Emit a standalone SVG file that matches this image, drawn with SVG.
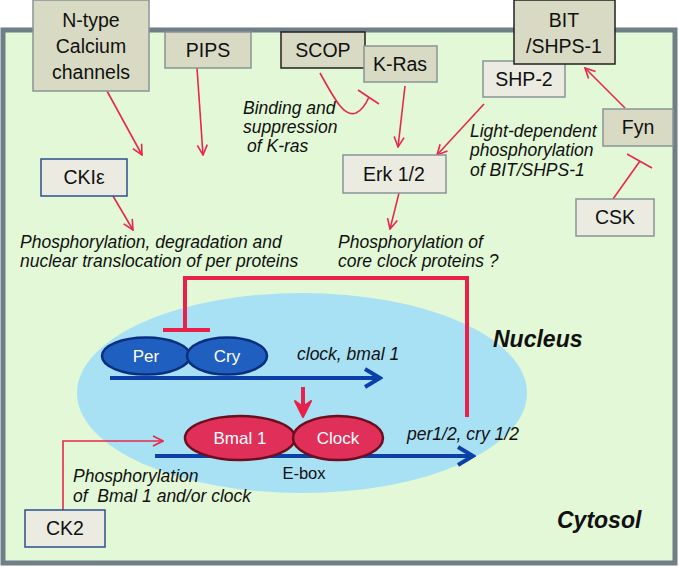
<svg xmlns="http://www.w3.org/2000/svg" width="679" height="567" viewBox="0 0 679 567">
<defs>
<marker id="ar" viewBox="0 0 12 12" markerWidth="12" markerHeight="12" refX="11" refY="6" orient="auto" markerUnits="userSpaceOnUse">
<path d="M1,1 L11,6 L1,11" fill="none" stroke="#e8284a" stroke-width="1.6"/>
</marker>
<marker id="ab" viewBox="0 0 20 22" markerWidth="20" markerHeight="22" refX="17" refY="11" orient="auto" markerUnits="userSpaceOnUse">
<path d="M2,2 L17,11 L2,20" fill="none" stroke="#0d3fa8" stroke-width="4"/>
</marker>
<style>
.box{stroke:#8a9496;stroke-width:1.5}
.dk{fill:#d8dac3}
.lt{fill:#ebebe2}
.bl{stroke:#2d4f90}
.bk{stroke:#222;stroke-width:1.5}
.lbl{font-family:"Liberation Sans",Arial,sans-serif;font-size:19.5px;fill:#111;text-anchor:middle}
.it{font-family:"Liberation Sans",Arial,sans-serif;font-size:17.5px;font-style:italic;fill:#111}
.thin{stroke:#e8284a;stroke-width:1.6;fill:none}
.thick{stroke:#e8204a;stroke-width:4;fill:none}
.blue{stroke:#0d3fa8;stroke-width:4;fill:none}
.big{font-family:"Liberation Sans",Arial,sans-serif;font-size:23px;font-style:italic;font-weight:bold;fill:#111}
.wt{font-family:"Liberation Sans",Arial,sans-serif;font-size:17px;fill:#fff;text-anchor:middle}
</style>
</defs>
<rect x="0" y="0" width="679" height="567" fill="#fff"/>
<rect id="cell" x="3" y="30" width="672" height="533" fill="#e2f8d6" stroke="#6e7f87" stroke-width="5"/>
<ellipse id="nucleus" cx="302" cy="393" rx="225" ry="100" fill="#a8e0f4"/>
<text class="big" x="493" y="347">Nucleus</text>
<text class="big" x="557" y="528">Cytosol</text>

<g id="connectors">
<line class="thin" x1="107" y1="91" x2="142" y2="155" marker-end="url(#ar)"/>
<line class="thin" x1="197" y1="68" x2="203" y2="155" marker-end="url(#ar)"/>
<path class="thin" d="M320,73 C334,98 344,118 356,113 C362,110 366,104 369,97"/>
<line class="thin" x1="358" y1="90" x2="379" y2="104"/>
<line class="thin" x1="405" y1="86" x2="398" y2="147" marker-end="url(#ar)"/>
<line class="thin" x1="484" y1="104" x2="437" y2="155" marker-end="url(#ar)"/>
<line class="thin" x1="625" y1="108" x2="585" y2="68" marker-end="url(#ar)"/>
<line class="thin" x1="613" y1="199" x2="640" y2="161"/>
<line class="thin" x1="627" y1="154" x2="652" y2="168"/>
<line class="thin" x1="113" y1="196" x2="133" y2="230" marker-end="url(#ar)"/>
<line class="thin" x1="399" y1="193" x2="390" y2="229" marker-end="url(#ar)"/>
<polyline class="thin" points="63,510 63,441 163,441" marker-end="url(#ar)"/>
<polyline class="thick" points="185,330 185,278 467,278 467,417"/>
<line class="thick" x1="163" y1="330" x2="210" y2="330"/>
<line class="blue" x1="110" y1="378" x2="380" y2="378" marker-end="url(#ab)"/>
<line class="blue" x1="155" y1="456" x2="473" y2="456" marker-end="url(#ab)"/>
<line class="thick" x1="303" y1="387" x2="303" y2="408"/>
<path d="M295,401 L303,417 L311,401 L303,407 Z" fill="#e8204a" stroke="#e8204a" stroke-width="2" stroke-linejoin="round"/>
</g>

<g id="ntype"><rect class="box dk" x="33" y="0" width="116" height="91"/>
<text class="lbl" x="91" y="27">N-type</text><text class="lbl" x="91" y="53">Calcium</text><text class="lbl" x="91" y="79">channels</text></g>
<g id="pips"><rect class="box dk" x="165" y="32" width="86" height="36"/><text class="lbl" x="208" y="57">PIPS</text></g>
<g id="scop"><rect class="box dk bk" x="281" y="32" width="84" height="36"/><text class="lbl" x="323" y="57">SCOP</text></g>
<g id="kras"><rect class="box dk" x="364" y="46" width="73" height="36"/><text class="lbl" x="400" y="71">K-Ras</text></g>
<g id="shp2"><rect class="box lt" x="483" y="61" width="82" height="36"/><text class="lbl" x="524" y="86">SHP-2</text></g>
<g id="bit"><rect class="box dk bk" x="514" y="0" width="101" height="64"/>
<text class="lbl" x="564" y="27">BIT</text><text class="lbl" x="564" y="53">/SHPS-1</text></g>
<g id="fyn"><rect class="box dk" x="603" y="109" width="70" height="37"/><text class="lbl" x="638" y="134">Fyn</text></g>
<g id="csk"><rect class="box lt" x="576" y="199" width="78" height="37"/><text class="lbl" x="615" y="224">CSK</text></g>
<g id="erk"><rect class="box lt" x="343" y="155" width="103" height="38"/><text class="lbl" x="394" y="181">Erk 1/2</text></g>
<g id="ckie"><rect class="box lt bl" x="41" y="159" width="86" height="37"/><text class="lbl" x="84" y="184">CKIε</text></g>
<g id="ck2"><rect class="box lt bl" x="25" y="510" width="80" height="37"/><text class="lbl" x="65" y="535">CK2</text></g>

<g id="labels">
<text class="it" x="243" y="114">Binding and</text>
<text class="it" x="243" y="133">suppression</text>
<text class="it" x="247" y="152">of K-ras</text>
<text class="it" x="470" y="137">Light-dependent</text>
<text class="it" x="470" y="156">phosphorylation</text>
<text class="it" x="470" y="176">of BIT/SHPS-1</text>
<text class="it" x="20" y="248" font-size="18.3">Phosphorylation, degradation and</text>
<text class="it" x="20" y="267" font-size="18.3">nuclear translocation of per proteins</text>
<text class="it" x="338" y="248" font-size="18">Phosphorylation of</text>
<text class="it" x="338" y="267" font-size="18">core clock proteins ?</text>
<text class="it" x="297" y="360">clock, bmal 1</text>
<text class="it" x="407" y="440" font-size="18.5">per1/2, cry 1/2</text>
<text class="it" x="73" y="482">Phosphorylation</text>
<text class="it" x="73" y="502" style="white-space:pre">of  Bmal 1 and/or clock</text>
<text x="304" y="479" font-family="Liberation Sans, Arial, sans-serif" font-size="16.5" fill="#111" text-anchor="middle">E-box</text>
</g>

<g id="per"><ellipse cx="146" cy="356" rx="44" ry="18.5" fill="#1f5fc0" stroke="#0b2f7f" stroke-width="2.5"/><text class="wt" x="146" y="362">Per</text></g>
<g id="cry"><ellipse cx="227" cy="356" rx="40" ry="18.5" fill="#1f5fc0" stroke="#0b2f7f" stroke-width="2.5"/><text class="wt" x="227" y="362">Cry</text></g>
<g id="bmal"><ellipse cx="240" cy="438" rx="55" ry="22" fill="#e0305a" stroke="#6b0f1f" stroke-width="2.5"/><text class="wt" x="240" y="444">Bmal 1</text></g>
<g id="clock"><ellipse cx="338" cy="438" rx="45" ry="22" fill="#e0305a" stroke="#6b0f1f" stroke-width="2.5"/><text class="wt" x="338" y="444">Clock</text></g>
</svg>
